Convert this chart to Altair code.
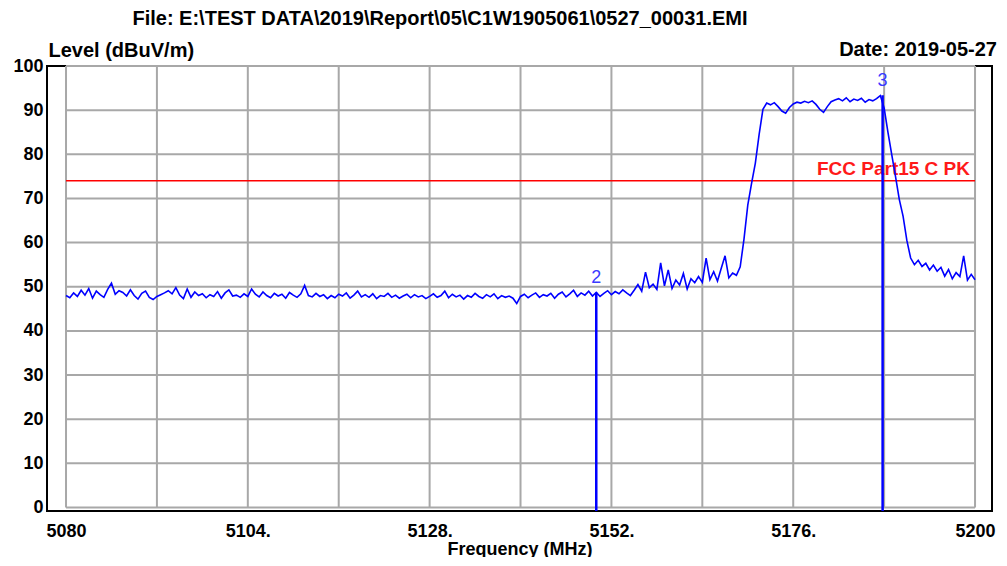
import altair as alt
import pandas as pd

# ---------------- data ----------------
freq = [round(5080 + 0.5 * i, 1) for i in range(241)]
level = [
    48.0, 47.5, 48.6, 47.8, 49.2, 48.1, 49.6, 47.4, 49.0, 48.2, 47.6, 49.4, 50.8, 48.3, 49.1, 48.7, 47.9, 49.3, 48.0, 47.2,
    48.5, 49.0, 47.6, 47.1, 47.8, 48.2, 48.6, 49.1, 48.4, 49.8, 48.1, 47.3, 49.5, 47.6, 48.8, 48.0, 48.4, 47.5, 48.2, 47.8,
    48.9, 47.4, 48.6, 49.3, 47.9, 48.1, 47.6, 48.4, 47.8, 49.5, 48.3, 47.7, 48.8, 48.0, 47.5, 48.5, 47.9, 48.3, 47.4, 48.7,
    48.1, 47.6, 48.4, 50.3, 48.0, 47.7, 48.5, 47.8, 48.2, 47.3, 48.0, 47.5, 48.3, 47.9, 48.6, 47.4, 48.1, 49.0, 47.7, 48.2,
    47.6, 48.4, 47.3, 48.0, 47.8, 48.5, 47.6, 48.1, 47.4, 47.9, 48.3, 47.5, 48.2, 47.7, 48.0, 47.3, 47.8, 48.4, 47.6, 48.0,
    49.0, 47.5, 48.3, 47.7, 48.1, 47.2, 48.0, 47.6, 48.5, 47.8, 47.4, 48.2, 47.7, 48.4, 47.3, 48.0, 47.6, 47.9, 47.4, 46.2,
    47.8, 48.3, 47.5, 48.1, 48.6, 47.6, 48.2, 47.9, 48.5, 47.4, 48.3, 48.8, 47.7, 48.4, 49.2, 47.8, 48.6, 48.1, 49.0, 47.9,
    48.7, 47.8, 48.5, 49.1, 48.2, 48.9, 48.4, 49.3, 48.6, 48.0, 49.2, 50.5, 49.0, 53.3, 49.8, 50.6, 49.4, 55.4, 50.2, 53.8,
    49.6, 51.5, 50.4, 53.0, 49.5, 51.8, 50.9, 52.3, 51.0, 56.5, 51.6, 53.4, 51.3, 54.2, 57.0, 52.0, 53.1, 52.6, 54.5, 60.8,
    68.5, 73.4, 78.0, 84.5, 90.2, 91.6, 91.2, 91.7, 90.8, 89.8, 89.3, 90.6, 91.4, 91.8, 91.6, 92.0, 91.7, 92.1, 91.3, 90.2,
    89.5, 90.8, 91.9, 92.3, 92.6, 92.1, 92.8, 91.9, 92.5, 92.2, 92.7, 91.8, 92.4, 92.1, 92.6, 93.3, 90.5, 85.0, 80.0, 75.0,
    69.8, 66.0, 60.5, 56.5, 55.0, 56.0, 54.6, 55.3, 53.8, 54.9, 53.5, 54.4, 52.4, 53.9, 51.8, 53.2, 52.3, 57.0, 51.5, 52.8,
    51.6,
]
limit_level = [74]
limit_text = ["FCC Part15 C PK"]
marker_freq = [5150.0, 5187.8]
marker_level = [48.7, 93.4]
marker_label = ["2", "3"]
y_ticks = list(range(0, 101, 10))
x_grid = list(range(5080, 5201, 12))
x_ticks = [5080, 5104, 5128, 5152, 5176, 5200]
title_text = ["File: E:\\TEST DATA\\2019\\Report\\05\\C1W1905061\\0527_00031.EMI"]
date_text = ["Date: 2019-05-27"]

# ---------------- layout ----------------
W, H = 945, 445
XDOM = [5077.49, 5202.24]
YDOM = [-0.8, 100]
FONT = "Arial, 'Liberation Sans', Helvetica, sans-serif"
X_TITLE = "Frequency (MHz)"
Y_TITLE = "Level (dBuV/m)"

xs = alt.Scale(domain=XDOM, nice=False, zero=False)
ys = alt.Scale(domain=YDOM, nice=False, zero=False)

x_axis = alt.Axis(
    values=x_ticks, format="d",
    labelExpr="(datum.value == 5080 || datum.value == 5200) ? datum.label : datum.label + '.'",
    grid=False, ticks=False, tickSize=0, domain=False,
    labelFontSize=18, labelFontWeight="bold", labelFont=FONT, labelColor="black",
    labelPadding=11, labelFlush=False, labelOverlap=False,
    titleFontSize=18, titleFontWeight="bold", titleFont=FONT, titleColor="black", titlePadding=0,
)
y_axis = alt.Axis(
    values=y_ticks, grid=False, ticks=False, tickSize=0, domain=False,
    labelFontSize=18, labelFontWeight="bold", labelFont=FONT, labelColor="black",
    labelPadding=4, labelFlush=False, labelOverlap=False,
    titleAngle=0, titleAlign="left", titleBaseline="alphabetic", titleX=1, titleY=-10,
    titleFontSize=20, titleFontWeight="bold", titleFont=FONT, titleColor="black",
)


def xf(field):
    return alt.X(field, type="quantitative", scale=xs, axis=x_axis, title=X_TITLE)


def yf(field):
    return alt.Y(field, type="quantitative", scale=ys, axis=y_axis, title=Y_TITLE)


def xd(v):
    return alt.XDatum(v, type="quantitative", scale=xs, axis=x_axis, title=X_TITLE)


def yd(v):
    return alt.YDatum(v, type="quantitative", scale=ys, axis=y_axis, title=Y_TITLE)


grid_color = "#a8a8a8"

vgrid = alt.Chart(pd.DataFrame({"f": x_grid})).mark_rule(color=grid_color, strokeWidth=2).encode(
    x=xf("f"), y=yd(100), y2=alt.Y2Datum(0),
)
hgrid = alt.Chart(pd.DataFrame({"l": y_ticks})).mark_rule(color=grid_color, strokeWidth=2).encode(
    y=yf("l"), x=xd(5080), x2=alt.X2Datum(5200),
)
limit = alt.Chart(pd.DataFrame({"l": limit_level})).mark_rule(color="#ff0000", strokeWidth=1.6).encode(
    y=yf("l"), x=xd(5080), x2=alt.X2Datum(5200),
)
limit_lbl = alt.Chart(pd.DataFrame({"l": limit_level, "t": limit_text})).mark_text(
    align="right", baseline="alphabetic", dx=-5, dy=-6, fontSize=19, fontWeight="bold",
    font=FONT, color="#ff1a1a",
).encode(y=yf("l"), x=xd(5200), text="t:N")
trace = alt.Chart(pd.DataFrame({"f": freq, "l": level})).mark_line(
    color="#0000ff", strokeWidth=1.6, interpolate="linear"
).encode(x=xf("f"), y=yf("l"))
mk_df = pd.DataFrame({"f": marker_freq, "l": marker_level, "t": marker_label})
markers = alt.Chart(mk_df).mark_rule(color="#0000ff", strokeWidth=2.5).encode(
    x=xf("f"), y=yf("l"), y2=alt.Y2Datum(YDOM[0]),
)
mk_lbl = alt.Chart(mk_df).mark_text(
    baseline="alphabetic", align="center", dy=-9, fontSize=18, font=FONT, color="#3a3aff"
).encode(x=xf("f"), y=yf("l"), text="t:N")
title = alt.Chart(pd.DataFrame({"t": title_text})).mark_text(
    align="center", baseline="alphabetic", fontSize=20, fontWeight="bold", font=FONT, color="black"
).encode(x=alt.value(393), y=alt.value(-41), text="t:N")
date = alt.Chart(pd.DataFrame({"t": date_text})).mark_text(
    align="right", baseline="alphabetic", fontSize=20, fontWeight="bold", font=FONT, color="black"
).encode(x=alt.value(950), y=alt.value(-10), text="t:N")

chart = alt.layer(
    vgrid, hgrid, limit, limit_lbl, trace, markers, mk_lbl, title, date
).properties(
    width=W, height=H,
    autosize=alt.AutoSizeParams(type="none"),
    padding={"left": 39, "top": 58, "right": 7, "bottom": 46},
    background="white",
).configure_view(stroke="black", strokeWidth=2)

chart.save("out.html", embed_options={"renderer": "svg", "actions": False})
